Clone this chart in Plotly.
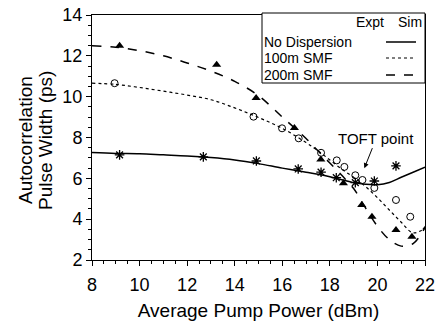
import plotly.graph_objects as go

# ---------------- data ----------------
# Experimental points
nodisp_x = [9.16, 12.68, 14.91, 16.67, 17.63, 18.27, 19.07, 19.87, 20.78]
nodisp_y = [7.15, 7.05, 6.85, 6.46, 6.30, 6.03, 5.79, 5.87, 6.61]

smf100_x = [8.95, 14.79, 15.99, 16.69, 17.63, 18.29, 18.61, 19.07, 19.37, 19.87, 20.78, 21.38]
smf100_y = [10.66, 9.02, 8.45, 7.96, 7.25, 6.88, 6.56, 6.15, 5.92, 5.53, 4.94, 4.12]

smf200_x = [9.16, 13.24, 14.90, 16.51, 17.62, 18.57, 19.34, 19.77, 20.78, 21.45, 22.08]
smf200_y = [12.50, 11.56, 9.93, 8.46, 6.92, 5.76, 4.70, 4.12, 3.47, 3.14, 3.60]

# Simulation curves
sim_x = [8, 9, 10, 11, 12, 13, 14, 15, 16, 17, 17.5, 18, 18.5, 19, 19.5, 20, 20.5, 21, 21.5, 22]
sim_nodisp = [7.26, 7.22, 7.20, 7.15, 7.10, 7.02, 6.90, 6.72, 6.50, 6.30, 6.20, 6.08, 5.93, 5.79,
              5.71, 5.69, 5.80, 6.05, 6.30, 6.55]
sim_100 = [10.66, 10.60, 10.45, 10.27, 10.08, 9.85, 9.45, 8.98, 8.45, 7.75, 7.35, 6.90, 6.45, 6.05,
           5.60, 5.05, 4.45, 3.85, 3.33, 3.55]
sim_200 = [12.50, 12.42, 12.25, 12.00, 11.65, 11.25, 10.75, 10.05, 9.00, 7.95, 7.35, 6.75, 6.15,
           5.50, 4.55, 3.65, 3.00, 2.68, 2.80, 3.60]

x_ticks = [8, 10, 12, 14, 16, 18, 20, 22]
y_ticks = [2, 4, 6, 8, 10, 12, 14]

legend_names = ["No Dispersion", "100m SMF", "200m SMF"]
legend_symbols = ["asterisk-open", "circle-open", "triangle-up"]
legend_dashes = ["solid", "dot", "dash"]

FONT = "Arial, Liberation Sans, Helvetica, sans-serif"

fig = go.Figure()

# simulation lines
fig.add_trace(go.Scatter(x=sim_x, y=sim_nodisp, mode="lines", line=dict(color="black", width=1.5, shape="spline", dash="solid"), showlegend=False))
fig.add_trace(go.Scatter(x=sim_x, y=sim_100, mode="lines", line=dict(color="black", width=1.2, shape="spline", dash="dot"), showlegend=False))
fig.add_trace(go.Scatter(x=sim_x, y=sim_200, mode="lines", line=dict(color="black", width=1.5, shape="spline", dash="dash"), showlegend=False))

# experimental markers
fig.add_trace(go.Scatter(x=nodisp_x, y=nodisp_y, mode="markers",
                         marker=dict(symbol="asterisk-open", size=8, color="black", line=dict(color="black", width=1.3)),
                         showlegend=False))
fig.add_trace(go.Scatter(x=smf100_x, y=smf100_y, mode="markers",
                         marker=dict(symbol="circle-open", size=7, color="black", line=dict(color="black", width=1)),
                         showlegend=False))
fig.add_trace(go.Scatter(x=smf200_x, y=smf200_y, mode="markers",
                         marker=dict(symbol="triangle-up", size=8, color="black"),
                         showlegend=False))

# ---------- custom legend ----------
L, W = 92, 333
T, H = 15, 245
def px(p):
    return (p - L) / W
def py(p):
    return (T + H - p) / H

shapes = [dict(type="rect", xref="paper", yref="paper", x0=px(262), x1=1.0, y0=py(83), y1=py(13),
               line=dict(color="black", width=1), fillcolor="white", layer="above")]
row_y = [42, 58, 75]
annotations = []
annotations.append(dict(x=px(370), y=py(22), xref="paper", yref="paper", text="Expt", showarrow=False,
                        font=dict(family=FONT, size=14, color="black"), xanchor="center", yanchor="middle"))
annotations.append(dict(x=px(424), y=py(22), xref="paper", yref="paper", text="Sim", showarrow=False,
                        font=dict(family=FONT, size=14, color="black"), xanchor="right", yanchor="middle"))
for name, ry, dash in zip(legend_names, row_y, legend_dashes):
    annotations.append(dict(x=px(262), y=py(ry), xref="paper", yref="paper", text=name, showarrow=False,
                            font=dict(family=FONT, size=14, color="black"), xanchor="left", yanchor="middle"))
    shapes.append(dict(type="line", xref="paper", yref="paper", x0=px(386), x1=px(416), y0=py(ry), y1=py(ry),
                       line=dict(color="black", width=1.5 if dash != "dot" else 1.2, dash=dash), layer="above"))

for sym, ry in zip(legend_symbols, row_y):
    fig.add_trace(go.Scatter(x=[px(367)], y=[py(ry)], xaxis="x2", yaxis="y2", mode="markers",
                             marker=dict(symbol=sym, size=7, color="black", line=dict(color="black", width=1)),
                             showlegend=False, cliponaxis=False))

# TOFT point annotation
annotations.append(dict(x=19.45, y=6.5, xref="x", yref="y", text="TOFT point", showarrow=True,
                        ax=12, ay=-30, arrowhead=2, arrowsize=1, arrowwidth=1, arrowcolor="black",
                        font=dict(family=FONT, size=15, color="black")))

# y title lines
annotations.append(dict(x=px(25), y=py(140), xref="paper", yref="paper", text="Autocorrelation", textangle=-90,
                        showarrow=False, font=dict(family=FONT, size=19, color="black"), xanchor="center", yanchor="middle"))
annotations.append(dict(x=px(45), y=py(140), xref="paper", yref="paper", text="Pulse Width (ps)", textangle=-90,
                        showarrow=False, font=dict(family=FONT, size=19, color="black"), xanchor="center", yanchor="middle"))

axis_common = dict(showline=True, linecolor="black", linewidth=1, mirror=True, showgrid=False, zeroline=False,
                   ticks="outside", ticklen=5, tickwidth=1, tickcolor="black", automargin=False,
                   tickfont=dict(family=FONT, size=18, color="black"))

fig.update_layout(
    width=437, height=324,
    margin=dict(l=L, r=437 - L - W, t=T, b=324 - T - H, autoexpand=False),
    paper_bgcolor="white", plot_bgcolor="white",
    showlegend=False,
    xaxis=dict(range=[8, 22], tickvals=x_ticks, ticktext=[str(v) for v in x_ticks],
               minor=dict(ticks="outside", dtick=0.5, ticklen=3, tickcolor="black"),
               ticklabelstandoff=3,
               title=dict(text="Average Pump Power (dBm)", font=dict(family=FONT, size=19, color="black"), standoff=10),
               **axis_common),
    yaxis=dict(range=[2, 14], tickvals=y_ticks, ticktext=[str(v) for v in y_ticks],
               minor=dict(ticks="outside", dtick=0.5, ticklen=3, tickcolor="black"),
               **axis_common),
    xaxis2=dict(range=[0, 1], overlaying="x", visible=False),
    yaxis2=dict(range=[0, 1], overlaying="y", visible=False),
    shapes=shapes,
    annotations=annotations,
)

fig.write_html("out.html", config={"displayModeBar": False},
               post_script="document.body.style.margin='0';document.body.style.padding='0';")
